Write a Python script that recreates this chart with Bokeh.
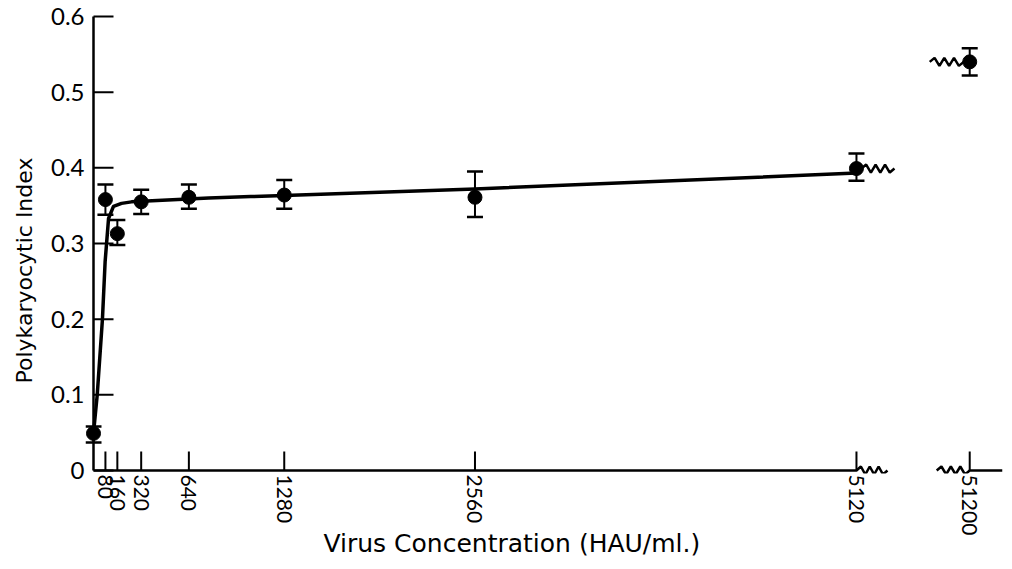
import numpy as np
from bokeh.plotting import figure
from bokeh.models import ColumnDataSource, FixedTicker, Whisker, TeeHead, Title, Range1d
from bokeh.embed import file_html
from bokeh.resources import INLINE

# ---------------- data ----------------
concentration = [0, 80, 160, 320, 640, 1280, 2560, 5120, 51200]
index_mean = [0.049, 0.358, 0.313, 0.355, 0.361, 0.364, 0.361, 0.399, 0.540]
index_upper = [0.058, 0.378, 0.331, 0.371, 0.378, 0.384, 0.395, 0.419, 0.558]
index_lower = [0.037, 0.338, 0.298, 0.339, 0.346, 0.346, 0.335, 0.383, 0.522]

fit_x = [0, 25, 60, 78, 101, 134, 188, 255, 773, 1055, 1280, 2560, 5120]
fit_y = [0.049, 0.10, 0.20, 0.276, 0.333, 0.349, 0.353, 0.355, 0.360, 0.362, 0.3635, 0.372, 0.393]

x_ticks = [80, 160, 320, 640, 1280, 2560, 5120, 51200]
x_tick_labels = ["80", "160", "320", "640", "1280", "2560", "5120", "51200"]
y_ticks = [0, 0.1, 0.2, 0.3, 0.4, 0.5, 0.6]
y_tick_labels = ["0", "0.1", "0.2", "0.3", "0.4", "0.5", "0.6"]

x_title = "Virus Concentration (HAU/ml.)"
y_title = "Polykaryocytic Index"

# ---------------- layout ----------------
BREAK_AT = 5120      # axis is broken after this value
BREAK_POS = 5880     # plotted position of the value beyond the break
FRAME_W, FRAME_H = 917, 460
X_START, X_END = -53.7, 6100
Y_START, Y_END = -0.00396, 0.6039
DX = (X_END - X_START) / FRAME_W   # data units per pixel (x)
DY = (Y_END - Y_START) / FRAME_H   # data units per pixel (y)
FONT = "Lato"
TITLE_FONT = "DejaVu Sans"


def to_plot(x):
    return x if x <= BREAK_AT else BREAK_POS


def zigzag(x0, x1, y0, amp, teeth=3):
    n = 2 * teeth + 2
    xs = list(np.linspace(x0, x1, n))
    ys = [y0] + [y0 + (amp if i % 2 else -amp) for i in range(1, n - 1)] + [y0]
    return xs, ys


p = figure(width=1010, height=567, output_backend="svg", toolbar_location=None,
           title=None, x_range=Range1d(X_START, X_END), y_range=Range1d(Y_START, Y_END),
           min_border_left=85, min_border_right=8, min_border_top=13, min_border_bottom=94)
p.outline_line_color = None
p.grid.visible = False
p.background_fill_color = "white"
p.border_fill_color = "white"

# axes: labels from Bokeh; lines and inward ticks drawn as glyphs (broken axis)
for ax in (p.xaxis[0], p.yaxis[0]):
    ax.axis_line_color = None
    ax.major_tick_line_color = None
    ax.minor_tick_line_color = None
    ax.major_tick_out = 0
    ax.major_tick_in = 0
    ax.major_label_text_color = "black"
    ax.major_label_text_font = FONT

p.xaxis.ticker = FixedTicker(ticks=[to_plot(t) for t in x_ticks])
p.xaxis.major_label_overrides = {to_plot(t): lab for t, lab in zip(x_ticks, x_tick_labels)}
p.xaxis.major_label_orientation = "vertical"
p.xaxis.major_label_standoff = 1
p.xaxis.major_label_text_font_size = "21px"

p.yaxis.ticker = FixedTicker(ticks=y_ticks)
p.yaxis.major_label_overrides = {t: lab for t, lab in zip(y_ticks, y_tick_labels)}
p.yaxis.major_label_standoff = 1
p.yaxis.major_label_text_font_size = "24px"

# y axis line and inward ticks
p.line([0, 0], [y_ticks[0], y_ticks[-1]], line_color="black", line_width=2.5)
p.segment(x0=[0] * len(y_ticks), y0=y_ticks, x1=[20 * DX] * len(y_ticks), y1=y_ticks,
          line_color="black", line_width=2)
# x axis, first part + break
zx, zy = zigzag(BREAK_AT, BREAK_AT + 31 * DX, 0, 4 * DY)
p.line([0] + zx, [0] + zy, line_color="black", line_width=2.5)
# x axis, second part after the break
zx2, zy2 = zigzag(BREAK_POS - 33 * DX, BREAK_POS, 0, 4 * DY)
p.line(zx2 + [X_END], zy2 + [0], line_color="black", line_width=2.5)
# x inward ticks
xt = [to_plot(t) for t in x_ticks]
p.segment(x0=xt, y0=[0] * len(xt), x1=xt, y1=[19 * DY] * len(xt),
          line_color="black", line_width=2)

# fitted curve
p.line(fit_x, fit_y, line_color="black", line_width=3.5, line_join="round")

# error bars
px = [to_plot(c) for c in concentration]
src = ColumnDataSource(dict(x=px, y=index_mean, upper=index_upper, lower=index_lower))
p.add_layout(Whisker(source=src, base="x", upper="upper", lower="lower",
                     line_color="black", line_width=2,
                     upper_head=TeeHead(size=16, line_width=2.5, line_color="black"),
                     lower_head=TeeHead(size=16, line_width=2.5, line_color="black")))

# points
p.scatter("x", "y", source=src, size=14, marker="circle",
          fill_color="black", line_color="black")

# break marks attached to points on either side of the break
i_a = concentration.index(BREAK_AT)
ax_, ay_ = zigzag(px[i_a] + 5 * DX, px[i_a] + 38 * DX, index_mean[i_a], 4 * DY)
p.line(ax_, ay_, line_color="black", line_width=2.5)
i_b = len(concentration) - 1
bx_, by_ = zigzag(px[i_b] - 40 * DX, px[i_b] - 6 * DX, index_mean[i_b], 4 * DY)
p.line(bx_, by_, line_color="black", line_width=2.5)

# axis titles
p.add_layout(Title(text=y_title, align="left", offset=90, standoff=18,
                   vertical_align="top",
                   text_font=TITLE_FONT, text_font_size="22px", text_font_style="normal",
                   text_color="black"), "left")
p.add_layout(Title(text=x_title, align="left", offset=238, standoff=-24,
                   text_font=TITLE_FONT, text_font_size="25px", text_font_style="normal",
                   text_color="black"), "below")

open("out.html", "w").write(file_html(p, INLINE))
